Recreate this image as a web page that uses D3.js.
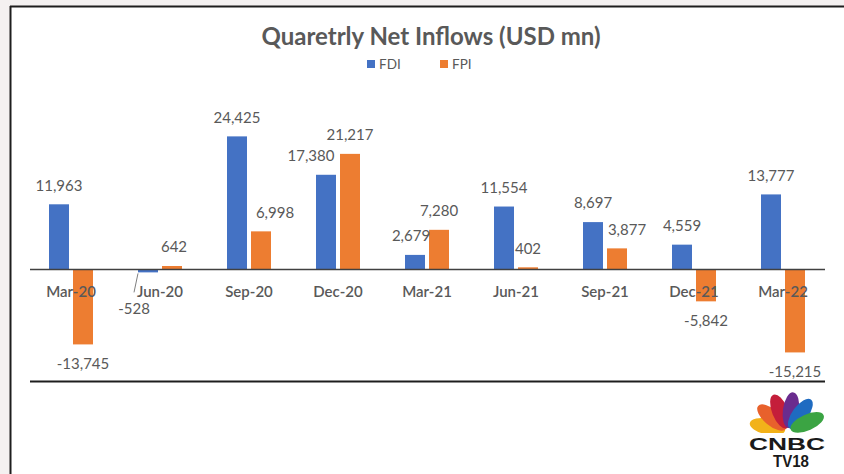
<!DOCTYPE html>
<html>
<head>
<meta charset="utf-8">
<script src="https://cdn.jsdelivr.net/npm/d3@7"></script>
<style>
  html, body { margin: 0; padding: 0; background: #f4f1f1; }
  svg { display: block; }
</style>
</head>
<body>
<svg id="chart" width="844" height="474"></svg>
<script>
// Quarterly net inflows, USD mn
const quarters = ["Mar-20", "Jun-20", "Sep-20", "Dec-20", "Mar-21", "Jun-21", "Sep-21", "Dec-21", "Mar-22"];
const fdi = [11963, -528, 24425, 17380, 2679, 11554, 8697, 4559, 13777];
const fpi = [-13745, 642, 6998, 21217, 7280, 402, 3877, -5842, -15215];
const seriesNames = ["FDI", "FPI"];

const colors = { FDI: "#4472c4", FPI: "#ed7d31" };
const textGray = "#595959";
const font = "Lato, 'Open Sans', sans-serif";

// small horizontal nudges for labels that sit off-centre
const labelNudge = { "Dec-20|FDI": -15, "Sep-20|FPI": 14, "Sep-21|FPI": 10, "Jun-20|FPI": 2, "Mar-21|FDI": -4 };

const svg = d3.select("#chart");

// white panel with dark frame on top and left
svg.append("rect").attr("x", 10).attr("y", 6).attr("width", 834).attr("height", 468).attr("fill", "#ffffff");
svg.append("line").attr("x1", 10).attr("x2", 844).attr("y1", 6.5).attr("y2", 6.5)
  .attr("stroke", "#1e1e1e").attr("stroke-width", 2);
svg.append("line").attr("x1", 10.5).attr("x2", 10.5).attr("y1", 6).attr("y2", 474)
  .attr("stroke", "#1e1e1e").attr("stroke-width", 2);

const x = d3.scaleBand().domain(quarters).range([26.5, 827.5]).padding(0);
const xs = d3.scaleBand().domain(seriesNames).range([0, x.bandwidth()])
  .paddingInner(1 / 6).paddingOuter(0.9375);
const y = d3.scaleLinear().domain([-20000, 30000]).range([378.5, 106]);

const rows = [];
quarters.forEach((q, i) => {
  rows.push({ q, s: "FDI", v: fdi[i] });
  rows.push({ q, s: "FPI", v: fpi[i] });
});

// title + legend
svg.append("text").attr("x", 431).attr("y", 45).attr("text-anchor", "middle")
  .attr("font-family", font).attr("font-weight", 700).attr("font-size", 24)
  .attr("fill", textGray).text("Quaretrly Net Inflows (USD mn)");

const legend = svg.append("g").attr("transform", "translate(367,64)");
seriesNames.forEach((s, i) => {
  const g = legend.append("g").attr("transform", `translate(${i * 73},0)`);
  g.append("rect").attr("x", 0).attr("y", -4).attr("width", 8).attr("height", 8).attr("fill", colors[s]);
  g.append("text").attr("x", 12).attr("y", 5).attr("font-family", font).attr("font-size", 13.5)
    .attr("fill", textGray).text(s);
});

// bars
svg.append("g").selectAll("rect").data(rows).join("rect")
  .attr("x", d => x(d.q) + xs(d.s))
  .attr("width", xs.bandwidth())
  .attr("y", d => y(Math.max(0, d.v)))
  .attr("height", d => Math.abs(y(d.v) - y(0)))
  .attr("fill", d => colors[d.s]);

// zero line
svg.append("line").attr("x1", 30).attr("x2", 825).attr("y1", y(0)).attr("y2", y(0))
  .attr("stroke", "#404040").attr("stroke-width", 1.6);

// bottom rule
svg.append("line").attr("x1", 30).attr("x2", 825).attr("y1", 381.5).attr("y2", 381.5)
  .attr("stroke", "#1e1e1e").attr("stroke-width", 2);

// category labels, drawn over the bars
const xAxis = d3.axisBottom(x).tickSize(0).tickPadding(0);
const ax = svg.append("g").attr("transform", `translate(0,${y(0) + 16})`).call(xAxis);
ax.select(".domain").remove();
ax.selectAll("text").attr("font-family", font).attr("font-weight", 600).attr("font-size", 15)
  .attr("fill", textGray).attr("dy", "0.32em").attr("y", 7);

// value labels (plain hyphen for negatives)
const fmt = d3.formatLocale({ decimal: ".", thousands: ",", grouping: [3], currency: ["", ""], minus: "-" }).format(",");
const labels = svg.append("g");
rows.forEach(d => {
  const cx = x(d.q) + xs(d.s) + xs.bandwidth() / 2 + (labelNudge[d.q + "|" + d.s] || 0);
  let ly, lx = cx;
  if (d.q === "Jun-20" && d.s === "FDI") {
    // tiny negative bar: label pulled down with a leader line
    lx = cx - 14;
    ly = y(d.v) + 36;
    labels.append("line").attr("x1", cx - 10).attr("y1", y(d.v) + 1)
      .attr("x2", cx - 14).attr("y2", y(d.v) + 20)
      .attr("stroke", "#7f7f7f").attr("stroke-width", 1);
  } else {
    ly = d.v >= 0 ? y(d.v) - 19 : y(d.v) + 19;
  }
  labels.append("text").attr("x", lx).attr("y", ly).attr("dy", "0.35em")
    .attr("text-anchor", "middle").attr("font-family", font).attr("font-size", 15)
    .attr("fill", textGray).text(fmt(d.v));
});

// CNBC TV18 logo
const logo = svg.append("g").attr("transform", "translate(788,431)");
const feathers = [
  { a: -78, c: "#f2b21a" },
  { a: -50, c: "#e8612c" },
  { a: -22, c: "#c41e3a" },
  { a: 8, c: "#6a2c8e" },
  { a: 36, c: "#1f6bc1" },
  { a: 66, c: "#3ba443" }
];
feathers.forEach(f => {
  logo.append("ellipse").attr("cx", 0).attr("cy", -21).attr("rx", 8).attr("ry", 18)
    .attr("fill", f.c).attr("transform", `rotate(${f.a})`);
});
logo.append("rect").attr("x", -40).attr("y", 2).attr("width", 80).attr("height", 40).attr("fill", "#ffffff");
svg.append("text").attr("x", 787).attr("y", 450).attr("text-anchor", "middle")
  .attr("font-family", "'Liberation Sans', Arial, sans-serif").attr("font-weight", 900)
  .attr("font-size", 16).attr("textLength", 76).attr("lengthAdjust", "spacingAndGlyphs")
  .attr("fill", "#1a1a1a").text("CNBC");
svg.append("text").attr("x", 791).attr("y", 467).attr("text-anchor", "middle")
  .attr("font-family", "'Liberation Sans', Arial, sans-serif").attr("font-weight", 900)
  .attr("font-size", 17).attr("textLength", 36).attr("lengthAdjust", "spacingAndGlyphs")
  .attr("fill", "#1a1a1a").text("TV18");
</script>
</body>
</html>
